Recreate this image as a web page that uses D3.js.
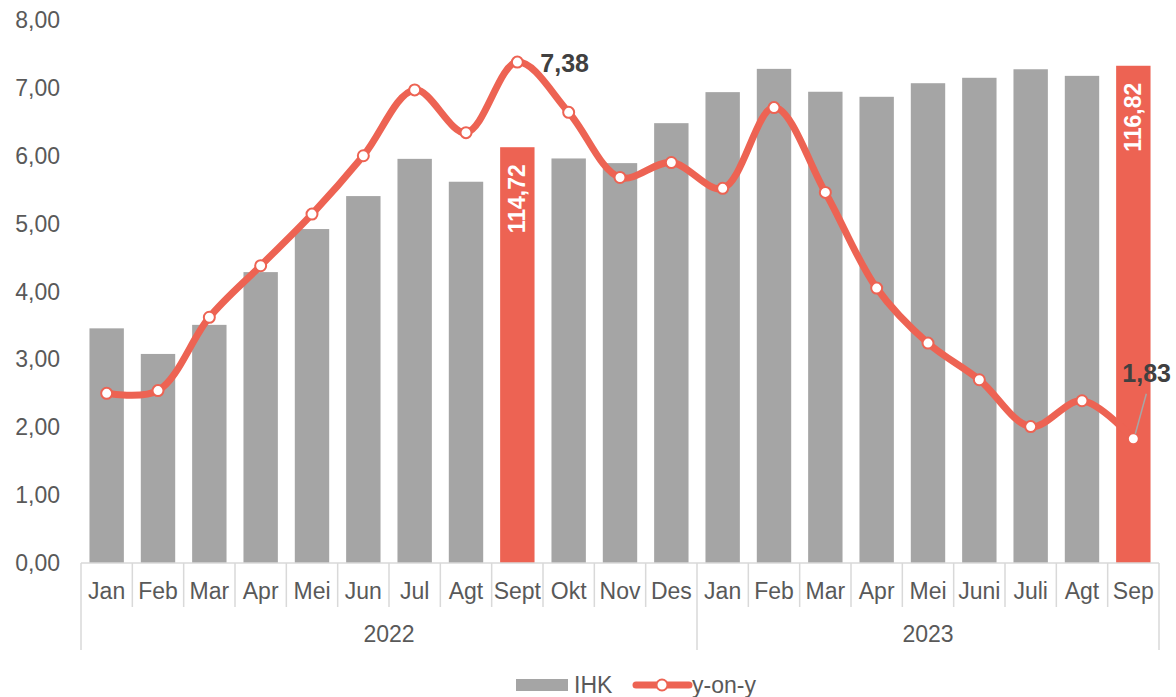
<!DOCTYPE html>
<html>
<head>
<meta charset="utf-8">
<title>IHK dan inflasi y-on-y</title>
<script src="https://d3js.org/d3.v7.min.js"></script>
<style>
body { margin: 0; background: #fff; }
text { font-family: "Liberation Sans", Arial, sans-serif; }
</style>
</head>
<body>
<script type="text/javascript">

var width = 1176,
    height = 697;

// categories
var months = ["Jan", "Feb", "Mar", "Apr", "Mei", "Jun", "Jul", "Agt", "Sept", "Okt", "Nov", "Des",
              "Jan", "Feb", "Mar", "Apr", "Mei", "Juni", "Juli", "Agt", "Sep"];
var years = ["2022", "2023"];
var monthsPerYear = [12, 9];

// series
var ihk = [110.05, 109.39, 110.14, 111.50, 112.61, 113.46, 114.42, 113.83, 114.72, 114.43, 114.31, 115.34,
           116.14, 116.74, 116.15, 116.02, 116.37, 116.51, 116.73, 116.56, 116.82];
var yoy = [2.50, 2.54, 3.62, 4.38, 5.14, 6.00, 6.97, 6.34, 7.38, 6.64, 5.68, 5.90,
           5.52, 6.71, 5.46, 4.05, 3.24, 2.70, 2.01, 2.39, 1.83];
var highlight = [8, 20];      // bars drawn in red with value label
var yoyLabelled = [8, 20];    // points with a value label
var yTicks = [0, 1, 2, 3, 4, 5, 6, 7, 8];

var grey = "#a5a5a5",
    red = "#ed6353",
    textCol = "#595959",
    axisCol = "#d9d9d9";

var margin = { left: 81, right: 17, top: 20, bottom: 134 };

var locale = d3.formatLocale({ decimal: ",", thousands: ".", grouping: [3], currency: ["Rp", ""] });
var fmt = locale.format(".2f");

var svg = d3.select("body").append("svg")
    .attr("width", width)
    .attr("height", height);

var idx = d3.range(months.length);

var x = d3.scaleBand()
    .domain(idx)
    .range([margin.left, width - margin.right])
    .padding(0);

var y = d3.scaleLinear()
    .domain([0, 8])
    .range([height - margin.bottom, margin.top]);

// hidden secondary axis for the index
var y2 = d3.scaleLinear()
    .domain([104, 118])
    .range([height - margin.bottom, margin.top]);

var base = y(0);
var bw = x.bandwidth() * 0.67;

// y axis labels
svg.append("g").selectAll("text")
    .data(yTicks)
    .enter().append("text")
    .attr("x", 60)
    .attr("y", d => y(d))
    .attr("dy", "0.35em")
    .attr("text-anchor", "end")
    .style("font-size", "23px")
    .style("fill", textCol)
    .text(d => fmt(d));

// bars
svg.append("g").selectAll("rect")
    .data(idx)
    .enter().append("rect")
    .attr("x", i => x(i) + (x.bandwidth() - bw) / 2)
    .attr("width", bw)
    .attr("y", i => y2(ihk[i]))
    .attr("height", i => base - y2(ihk[i]))
    .style("fill", i => highlight.includes(i) ? red : grey);

// bar value labels
svg.append("g").selectAll("text")
    .data(highlight)
    .enter().append("text")
    .attr("transform", i => "translate(" + (x(i) + x.bandwidth() / 2) + "," + (y2(ihk[i]) + 17) + ") rotate(-90)")
    .attr("dy", "0.35em")
    .attr("text-anchor", "end")
    .style("font-size", "23px")
    .style("font-weight", "bold")
    .style("fill", "#fff")
    .text(i => fmt(ihk[i]));

// x axis
var ax = svg.append("g").style("stroke", axisCol).style("stroke-width", 1.5);
ax.append("line")
    .attr("x1", margin.left).attr("x2", width - margin.right)
    .attr("y1", base).attr("y2", base);

var bounds = idx.map(i => x(i)).concat([width - margin.right]);
var yearEdges = [0];
monthsPerYear.forEach((n, k) => yearEdges.push(yearEdges[k] + n));

ax.selectAll(".tk")
    .data(bounds.map((b, k) => k))
    .enter().append("line")
    .attr("x1", k => bounds[k]).attr("x2", k => bounds[k])
    .attr("y1", base)
    .attr("y2", k => yearEdges.includes(k) ? base + 87 : base + 44);

svg.append("g").selectAll("text")
    .data(idx)
    .enter().append("text")
    .attr("x", i => x(i) + x.bandwidth() / 2)
    .attr("y", base + 28)
    .attr("dy", "0.35em")
    .attr("text-anchor", "middle")
    .style("font-size", "23px")
    .style("fill", textCol)
    .text(i => months[i]);

svg.append("g").selectAll("text")
    .data(years)
    .enter().append("text")
    .attr("x", (d, k) => (bounds[yearEdges[k]] + bounds[yearEdges[k + 1]]) / 2)
    .attr("y", base + 71)
    .attr("dy", "0.35em")
    .attr("text-anchor", "middle")
    .style("font-size", "23px")
    .style("fill", textCol)
    .text(d => d);

// y-on-y line
var cx = i => x(i) + x.bandwidth() / 2;
var line = d3.line()
    .x(i => cx(i))
    .y(i => y(yoy[i]))
    .curve(d3.curveCatmullRom.alpha(0.5));

svg.append("path")
    .datum(idx)
    .attr("d", line)
    .style("fill", "none")
    .style("stroke", red)
    .style("stroke-width", 7)
    .style("stroke-linejoin", "round")
    .style("stroke-linecap", "round");

svg.append("g").selectAll("circle")
    .data(idx)
    .enter().append("circle")
    .attr("cx", i => cx(i))
    .attr("cy", i => y(yoy[i]))
    .attr("r", 5.5)
    .style("fill", "#fff")
    .style("stroke", red)
    .style("stroke-width", 2);

// y-on-y value labels
var peak = yoyLabelled[0], last = yoyLabelled[1];
svg.append("text")
    .attr("x", cx(peak) + 23)
    .attr("y", y(yoy[peak]) + 1)
    .attr("dy", "0.35em")
    .style("font-size", "25px")
    .style("font-weight", "bold")
    .style("fill", "#404040")
    .text(fmt(yoy[peak]));

svg.append("line")
    .attr("x1", cx(last) + 13).attr("y1", y(yoy[last]) - 45)
    .attr("x2", cx(last) + 2).attr("y2", y(yoy[last]) - 5)
    .style("stroke", "#a6a6a6")
    .style("stroke-width", 1.5);

svg.append("text")
    .attr("x", cx(last) - 11)
    .attr("y", y(yoy[last]) - 66)
    .attr("dy", "0.35em")
    .style("font-size", "25px")
    .style("font-weight", "bold")
    .style("fill", "#404040")
    .text(fmt(yoy[last]));

// legend
var lg = svg.append("g").attr("transform", "translate(516,685)");
lg.append("rect")
    .attr("x", 0).attr("y", -6)
    .attr("width", 52).attr("height", 12)
    .style("fill", grey);
lg.append("text")
    .attr("x", 58).attr("y", 0).attr("dy", "0.35em")
    .style("font-size", "23px").style("fill", textCol)
    .text("IHK");
lg.append("line")
    .attr("x1", 120).attr("x2", 173)
    .attr("y1", 0).attr("y2", 0)
    .style("stroke", red).style("stroke-width", 7).style("stroke-linecap", "round");
lg.append("circle")
    .attr("cx", 146).attr("cy", 0).attr("r", 5.5)
    .style("fill", "#fff").style("stroke", red).style("stroke-width", 2);
lg.append("text")
    .attr("x", 176).attr("y", 0).attr("dy", "0.35em")
    .style("font-size", "23px").style("fill", textCol)
    .text("y-on-y");

</script>
</body>
</html>
